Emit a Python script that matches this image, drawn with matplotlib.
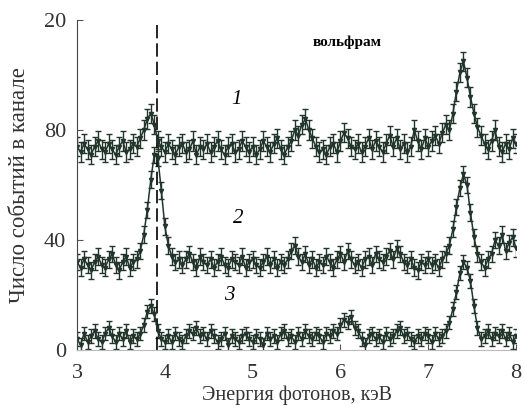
import numpy as np
import matplotlib
matplotlib.use("Agg")
import matplotlib.pyplot as plt

plt.rcParams["font.family"] = ["Liberation Serif", "DejaVu Serif"]

# channel energies, keV
Energy = np.round(3.0 + 0.04 * np.arange(126), 2)

Counts_1 = [74, 72, 75, 73, 71, 74, 76, 73, 72, 75,
            73, 71, 74, 76, 72, 73, 75, 74, 77, 80,
            84, 86, 82, 76, 74, 72, 75, 73, 71, 74,
            75, 72, 73, 76, 71, 74, 73, 75, 72, 74,
            76, 73, 71, 74, 75, 72, 73, 76, 74, 72,
            74, 71, 73, 76, 74, 72, 75, 77, 73, 71,
            74, 76, 80, 78, 82, 84, 80, 77, 74, 72,
            73, 71, 74, 75, 72, 76, 79, 77, 74, 73,
            75, 72, 74, 77, 73, 76, 74, 72, 75, 78,
            74, 77, 73, 75, 72, 74, 80, 76, 73, 77,
            74, 76, 78, 75, 79, 82, 80, 86, 94, 101,
            105, 99, 92, 86, 81, 78, 75, 73, 76, 80,
            74, 72, 75, 73, 77, 75]

Counts_2 = [32, 30, 33, 31, 29, 32, 34, 31, 30, 33,
            35, 31, 29, 32, 34, 30, 32, 33, 36, 42,
            51, 62, 71, 70, 58, 45, 38, 34, 32, 33,
            31, 33, 35, 32, 30, 34, 32, 31, 33, 30,
            32, 34, 31, 30, 33, 32, 31, 34, 30, 32,
            33, 31, 30, 32, 34, 31, 33, 30, 32, 31,
            33, 36, 38, 34, 32, 35, 31, 33, 30, 32,
            31, 34, 32, 30, 33, 35, 32, 36, 33, 31,
            32, 30, 33, 34, 31, 35, 33, 32, 34, 36,
            33, 37, 35, 32, 31, 33, 30, 29, 32, 31,
            33, 31, 32, 30, 33, 35, 38, 44, 52, 59,
            64, 60, 50, 41, 35, 32, 30, 33, 35, 40,
            38, 42, 36, 39, 41, 37]

Counts_3 = [4, 2, 6, 3, 5, 7, 4, 3, 6, 8,
            5, 3, 6, 4, 7, 3, 5, 4, 6, 9,
            14, 16, 13, 7, 4, 3, 5, 3, 6, 4,
            3, 5, 7, 6, 8, 5, 6, 4, 7, 5,
            3, 4, 6, 2, 5, 4, 3, 5, 6, 4,
            3, 5, 4, 2, 6, 4, 5, 3, 6, 7,
            4, 5, 3, 6, 4, 7, 5, 4, 6, 5,
            3, 6, 5, 7, 6, 9, 11, 10, 12, 8,
            7, 4, 2, 5, 6, 4, 5, 3, 6, 4,
            5, 7, 8, 5, 6, 4, 3, 5, 4, 6,
            5, 3, 6, 4, 5, 7, 10, 15, 21, 28,
            32, 30, 25, 16, 8, 4, 5, 7, 4, 6,
            5, 7, 4, 6, 3, 5]

Errors = [3.5, 3.0, 2.5]
Curve_Labels = ["1", "2", "3"]
Label_Pos = [(4.82, 91), (4.83, 48), (4.73, 20)]

Y_Ticks = [0, 40, 80, 120]
Y_Tick_Labels = ["0", "40", "80", "20"]
X_Ticks = [3, 4, 5, 6, 7, 8]

Line_Energy = 3.91
Color = "#22352d"

fig = plt.figure(figsize=(5.24, 4.08), dpi=100)
ax = fig.add_axes([0.147, 0.142, 0.838, 0.809])

for Counts, Err in zip([Counts_1, Counts_2, Counts_3], Errors):
    ax.errorbar(Energy, Counts, yerr=Err, fmt="-v", color=Color, ms=3.0,
                lw=1.1, elinewidth=1.0, capsize=2.4, capthick=1.0)

ax.axvline(Line_Energy, color="black", lw=1.2, ls=(0, (8, 3)))

for Text, (Lx, Ly) in zip(Curve_Labels, Label_Pos):
    ax.text(Lx, Ly, Text, fontsize=15, style="italic", ha="center", va="center")

ax.text(6.07, 112, "вольфрам", fontsize=11, fontweight="bold", ha="center", va="center")

ax.set_xlim(3, 8)
ax.set_ylim(0, 120)
ax.set_xticks(X_Ticks)
ax.set_yticks(Y_Ticks)
ax.set_yticklabels(Y_Tick_Labels)
ax.tick_params(direction="in", labelsize=16, length=4, color="#555555",
               labelcolor="#333333")
ax.tick_params(axis="x", pad=10)
ax.tick_params(axis="y", pad=8)
ax.spines["top"].set_visible(False)
ax.spines["right"].set_visible(False)
ax.spines["bottom"].set_color("#bbbbbb")
ax.spines["left"].set_color("#444444")

ax.set_xlabel("Энергия фотонов, кэВ", fontsize=14.5, labelpad=2, color="#333333")
ax.set_ylabel("Число событий в канале", fontsize=16.5, labelpad=10, color="#333333")

fig.savefig("out.png", dpi=100)
